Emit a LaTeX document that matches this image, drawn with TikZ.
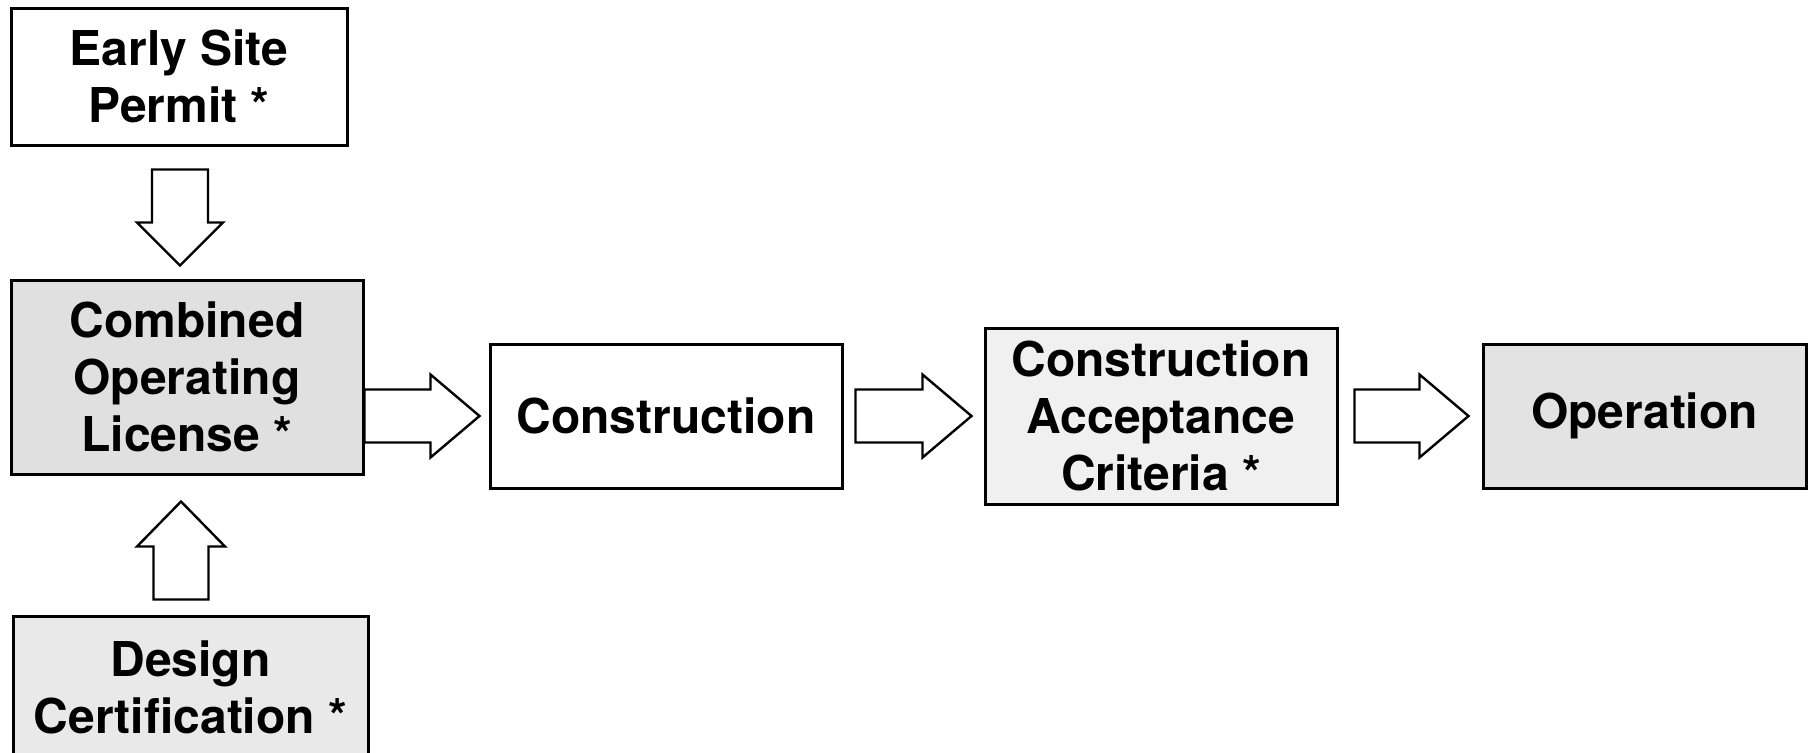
\documentclass[tikz,border=0pt]{standalone}
\usepackage{fontspec}
\setmainfont{TeX Gyre Heros}
\usetikzlibrary{calc}
\tikzset{
  box/.style={draw=black, line width=1.5pt, inner sep=0pt, align=center,
    font=\bfseries\fontsize{24}{28.5}\selectfont},
  plainbox/.style={box, fill=white},
  shadebox/.style={box, fill=gray!#1},
  arrowline/.style={draw=black, line width=1.2pt, fill=white, line join=miter},
  arrL/.store in=\arrL, arrH/.store in=\arrH,
  arrS/.store in=\arrS, arrW/.store in=\arrW,
  arrL=115, arrH=49, arrS=26.5, arrW=41.5,
  blockarrow/.pic={
    \draw[arrowline] (0,-\arrS) -- (\arrL-\arrH,-\arrS) -- (\arrL-\arrH,-\arrW)
      -- (\arrL,0) -- (\arrL-\arrH,\arrW) -- (\arrL-\arrH,\arrS) -- (0,\arrS) -- cycle;
  }
}
\begin{document}
\begin{tikzpicture}[x=0.5pt, y=-0.5pt]
\useasboundingbox[fill=white] (0,0) rectangle (1809,752);

\node[plainbox, minimum width=168pt, minimum height=68.5pt] (esp) at (179,76.5)
  {Early Site\\Permit *};
\node[shadebox=24, minimum width=176pt, minimum height=97pt] (col) at (187,377)
  {Combined\\Operating\\License *};
\node[shadebox=17, minimum width=177.5pt, minimum height=71pt] (dc) at (190.5,687)
  {Design\\Certification *};
\node[plainbox, minimum width=176pt, minimum height=72pt] (con) at (666,416)
  {Construction};
\node[shadebox=12, minimum width=176pt, minimum height=88pt] (cac) at (1161,416)
  {Construction\\Acceptance\\Criteria *};
\node[shadebox=22, minimum width=161.5pt, minimum height=72pt] (op) at (1644.5,416)
  {Operation};

% block arrows (connectors)
\pic[arrL=96, arrH=43, arrS=28, arrW=43, rotate=-90] at ($(esp.south)+(1,23)$) {blockarrow};
\pic[arrL=98, arrH=45, arrS=27.5, arrW=44, rotate=90] at ($(dc.north)+(-9.5,-15)$) {blockarrow};
\pic at (col.east |- con.west) {blockarrow};
\pic[arrL=116] at ($(con.east)+(12,0)$) {blockarrow};
\pic[arrL=114] at ($(cac.east)+(16,0)$) {blockarrow};
\end{tikzpicture}
\end{document}
